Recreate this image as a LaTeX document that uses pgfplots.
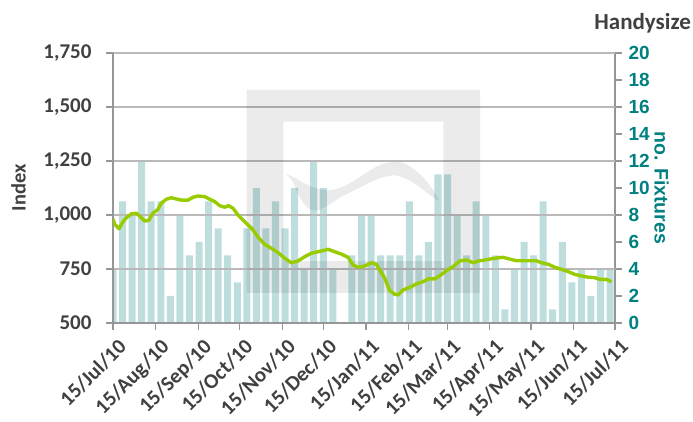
\documentclass[border=0pt]{standalone}
\usepackage{pgfplots}
\pgfplotsset{compat=1.18}
\usepackage{fontspec}
\setmainfont{Carlito}
\newfontfamily\arialf{Liberation Sans}
\definecolor{bartc}{RGB}{190,222,222}
\definecolor{linec}{RGB}{153,204,0}
\definecolor{tealc}{RGB}{0,128,128}
\definecolor{txt}{RGB}{64,64,64}
\definecolor{axc}{RGB}{150,150,150}
\definecolor{gridc}{RGB}{185,185,185}
\begin{document}
\begin{tikzpicture}
\useasboundingbox (0,0) rectangle (693pt,422pt);
% right axis: number of fixtures (bars)
\begin{axis}[
  at={(113pt,99pt)}, anchor=south west,
  width=502pt, height=270pt, scale only axis,
  xmin=0, xmax=365, ymin=0, ymax=20,
  axis y line*=right, axis x line=none,
  axis line style={-, draw=axc, line width=1.3pt},
  ytick={0,2,...,20},
  tick align=outside, major tick length=7pt,
  tick style={draw=axc, line width=1.3pt},
  /pgf/number format/assume math mode=true,
  yticklabel style={font=\arialf\bfseries\fontsize{19}{22}\selectfont, text=tealc, xshift=3pt},
  ylabel={no. Fixtures},
  ylabel style={font=\arialf\bfseries\fontsize{19.5}{23}\selectfont, text=tealc,
    at={(axis description cs:1.093,0.5)}, anchor=center, rotate=180},
]
\addplot[ybar, bar width=5.1, fill=bartc, draw=none] coordinates {
(0,4) (6.95,9) (13.9,8) (20.85,12) (27.8,9) (34.75,9) (41.7,2) (48.65,8)
(55.6,5) (62.55,6) (69.5,9) (76.45,7) (83.4,5) (90.35,3) (97.3,7) (104.25,10)
(111.2,7) (118.15,9) (125.1,7) (132.05,10) (139,4) (145.95,12) (152.9,10) (159.85,4)
(166.8,0) (173.75,5) (180.7,8) (187.65,8) (194.6,5) (201.55,5) (208.5,5) (215.45,9)
(222.4,5) (229.35,6) (236.3,11) (243.25,11) (250.2,8) (257.15,5) (264.1,9) (271.05,8)
(278,5) (284.95,1) (291.9,4) (298.85,6) (305.8,5) (312.75,9) (319.7,1) (326.65,6)
(333.6,3) (340.55,4) (347.5,2) (354.45,4) (361.4,4)
};
\end{axis}
% left axis: index (line)
\begin{axis}[
  at={(113pt,99pt)}, anchor=south west,
  width=502pt, height=270pt, scale only axis,
  xmin=0, xmax=365, ymin=500, ymax=1750,
  axis y line*=left, axis x line*=bottom,
  axis line style={-, draw=axc, line width=1.3pt},
  tick align=outside, major tick length=7pt,
  tick style={draw=axc, line width=1.3pt},
  ytick={500,750,1000,1250,1500,1750},
  yticklabels={500,750,{1,000},{1,250},{1,500},{1,750}},
  ymajorgrids, grid style={draw=gridc, line width=1.3pt},
  xtick={0,31,62,92,123,153,184,215,243,274,304,335,365},
  xticklabels={15/Jul/10,15/Aug/10,15/Sep/10,15/Oct/10,15/Nov/10,15/Dec/10,15/Jan/11,15/Feb/11,15/Mar/11,15/Apr/11,15/May/11,15/Jun/11,15/Jul/11},
  xticklabel style={xshift=4pt, yshift=-3pt, rotate=45, anchor=north east, font=\bfseries\fontsize{21}{25}\selectfont, text=txt},
  yticklabel style={font=\bfseries\fontsize{21}{25}\selectfont, text=txt, xshift=-11pt},
  ylabel={Index},
  ylabel style={font=\bfseries\fontsize{20.5}{24}\selectfont, text=txt,
    at={(axis description cs:-0.188,0.5)}, anchor=center},
]
\fill[black, opacity=0.08, even odd rule] (97.2,1578.7) rectangle (266.9,638.9) (123.8,1432) rectangle (240.2,787);
\fill[black, opacity=0.08] plot[smooth cycle, tension=0.7] coordinates {(127.5,1185) (159.0,1116) (197.8,1239) (219.6,1208) (236.5,1069) (214.7,1162) (197.8,1177) (168.7,1093) (144.5,1023) (129.9,1162)};
\addplot[draw=linec, line width=3.4pt, line join=round] coordinates {
(0,982) (1.2,958) (4.4,936) (7.3,969) (9.7,987) (13.3,1005) (17,1008) (19.9,992)
(23,972) (26,975) (29,1008) (32.7,1026) (35,1054) (38.8,1073) (42.4,1080) (46,1074)
(49.7,1069) (54.5,1069) (58.2,1082) (61.8,1088) (66.7,1085) (70.3,1073) (74,1062)
(77.6,1043) (81.2,1036) (84.1,1043) (87.3,1031) (90.9,1000) (94.5,977) (98.2,954)
(101.8,931) (105.5,897) (110.3,864) (115.1,846) (120,826) (124.8,800) (129.7,779)
(134.5,787) (139.4,807) (144.2,823) (149.1,830) (156.4,841) (161.2,830) (166,819)
(170.9,804) (174.5,769) (178.2,758) (183,764) (187.9,779) (191.5,772) (194.7,738)
(197.6,707) (201.2,650) (204.8,633) (207.3,630) (210.9,653) (215.8,665) (220.6,681)
(225.5,691) (229.1,704) (234,704) (237.6,719) (242.4,742) (247.3,761) (252.1,787)
(257,792) (261.8,779) (265.5,787) (269.1,790) (274,796) (278.8,801) (283.6,804)
(288.5,796) (293.3,788) (300.6,788) (307.9,788) (311.5,779) (316.4,772) (321.2,758)
(326,749) (330.9,738) (335.8,725) (340.6,718) (345.5,712) (350.3,710) (353.9,702)
(358.8,702) (362.4,691)
};
\end{axis}
\node[anchor=base east, font=\bfseries\fontsize{23}{27}\selectfont, text=txt, inner sep=0pt] at (691pt,392pt) {Handysize};
\end{tikzpicture}
\end{document}
